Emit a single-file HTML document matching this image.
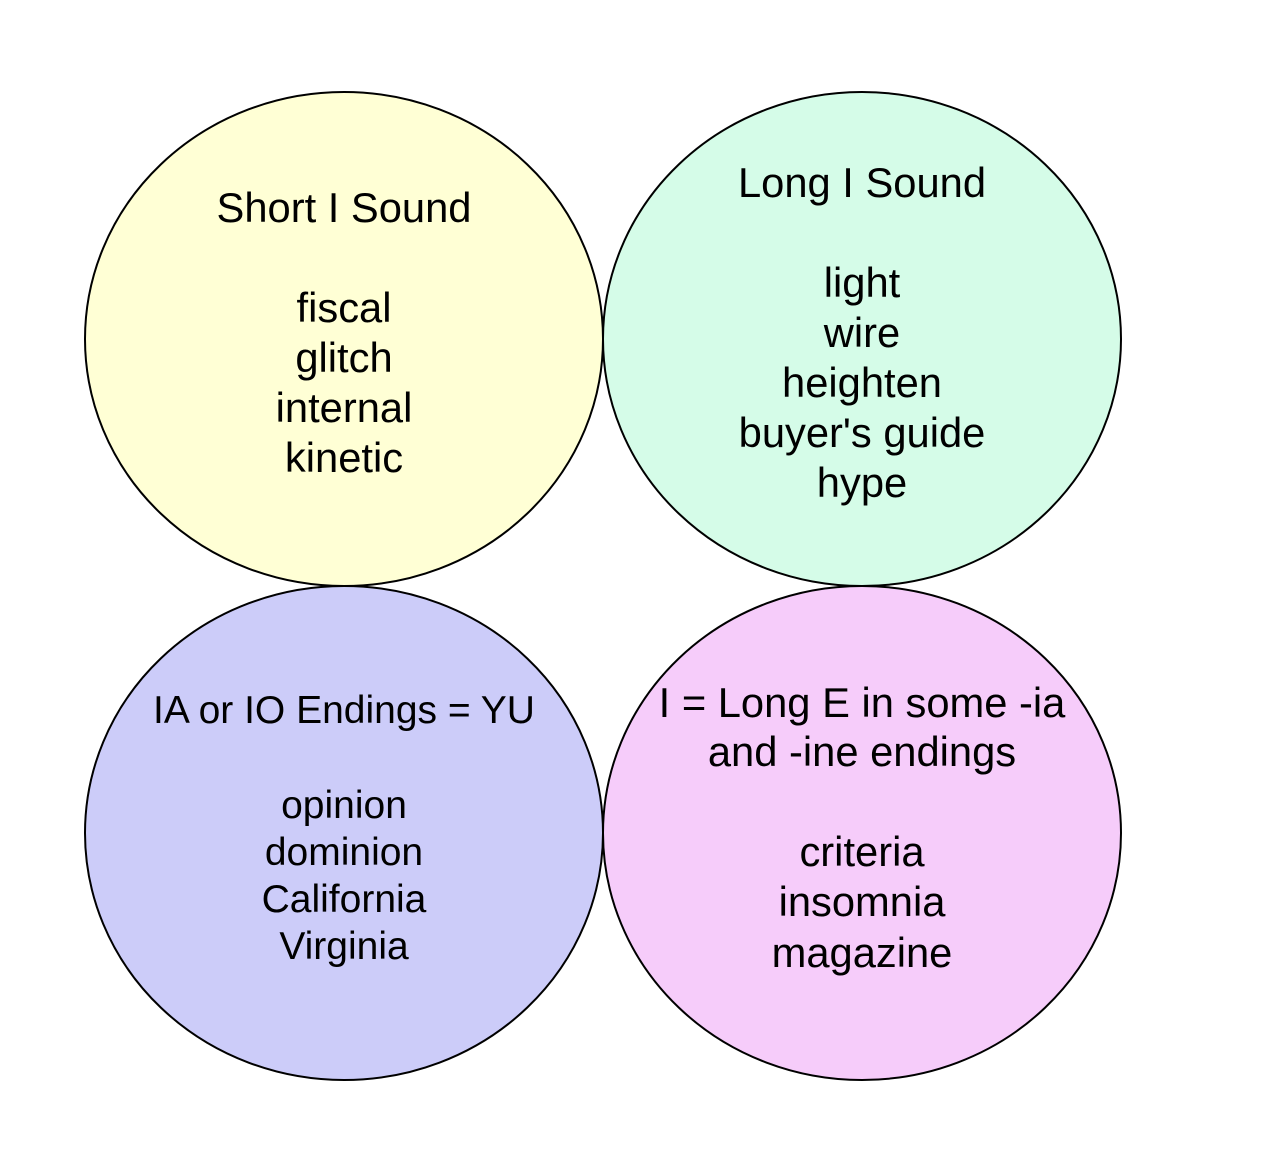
<!DOCTYPE html>
<html><head><meta charset="utf-8"><style>html,body{margin:0;padding:0;background:#fff}svg{display:block}</style></head>
<body>
<svg width="1274" height="1172" viewBox="0 0 1274 1172" xmlns="http://www.w3.org/2000/svg">
<g stroke="#000" stroke-width="2">
<ellipse cx="344" cy="339" rx="259" ry="247" fill="#ffffd5"/>
<ellipse cx="862" cy="339" rx="259" ry="247" fill="#d5fce8"/>
<ellipse cx="344" cy="833" rx="259" ry="247" fill="#ccccf9"/>
<ellipse cx="862" cy="833" rx="259" ry="247" fill="#f6ccfa"/>
</g>
<g font-family="Liberation Sans, sans-serif" font-size="41.7" text-anchor="middle" fill="#000">
<text x="344" y="222">Short I Sound</text>
<text x="344" y="322">fiscal</text>
<text x="344" y="372">glitch</text>
<text x="344" y="422">internal</text>
<text x="344" y="472">kinetic</text>
<text x="862" y="197">Long I Sound</text>
<text x="862" y="297">light</text>
<text x="862" y="347">wire</text>
<text x="862" y="397">heighten</text>
<text x="862" y="447">buyer's guide</text>
<text x="862" y="497">hype</text>
<text x="862" y="717">I = Long E in some -ia</text>
<text x="862" y="766">and -ine endings</text>
<text x="862" y="866">criteria</text>
<text x="862" y="916">insomnia</text>
<text x="862" y="967">magazine</text>
</g>
<g font-family="Liberation Sans, sans-serif" font-size="39" text-anchor="middle" fill="#000">
<text x="344" y="723">IA or IO Endings = YU</text>
<text x="344" y="818">opinion</text>
<text x="344" y="865">dominion</text>
<text x="344" y="912">California</text>
<text x="344" y="959">Virginia</text>
</g>
</svg>
</body></html>
